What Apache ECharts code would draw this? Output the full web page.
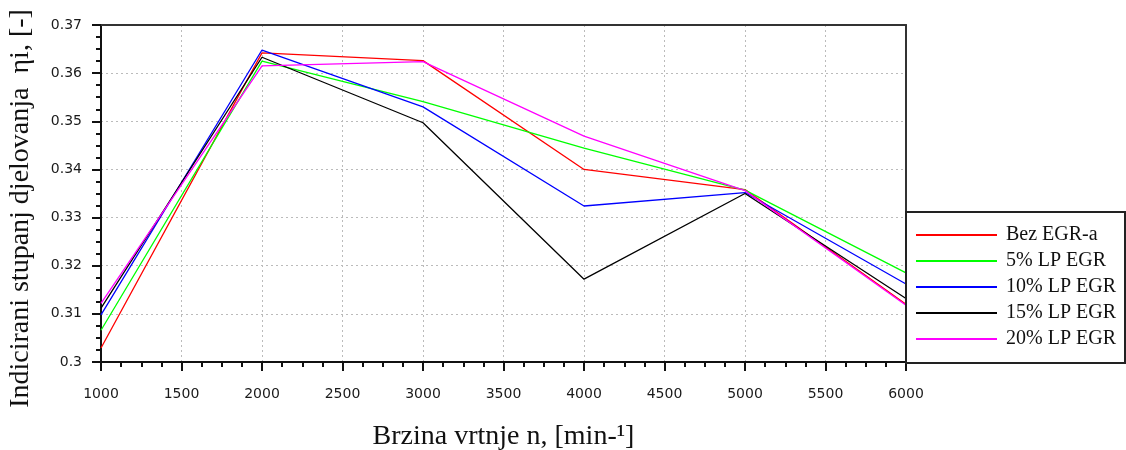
<!DOCTYPE html>
<html>
<head>
<meta charset="utf-8">
<script src="https://cdn.jsdelivr.net/npm/echarts@6/dist/echarts.min.js"></script>
<style>
html,body{margin:0;padding:0;background:#fff;}
#chart{width:1126px;height:450px;}
</style>
</head>
<body>
<div id="chart"></div>
<script>
const speeds = [1000, 2000, 3000, 4000, 5000, 6000];
const seriesNames = ['Bez EGR-a', '5% LP EGR', '10% LP EGR', '15% LP EGR', '20% LP EGR'];
const bezEgr = [0.3029, 0.3642, 0.3626, 0.3400, 0.3358, 0.3120];
const lp5 = [0.3066, 0.3625, 0.3541, 0.3444, 0.3357, 0.3185];
const lp10 = [0.3098, 0.3648, 0.3530, 0.3324, 0.3352, 0.3162];
const lp15 = [0.3112, 0.3633, 0.3497, 0.3172, 0.3350, 0.3132];
const lp20 = [0.3122, 0.3615, 0.3624, 0.3469, 0.3356, 0.3118];
const colors = ['#ff0000', '#00ff00', '#0000ff', '#000000', '#ff00ff'];
const allValues = [bezEgr, lp5, lp10, lp15, lp20];

const chart = echarts.init(document.getElementById('chart'));
const tickFont = { fontFamily: 'DejaVu Sans', fontSize: 14, color: '#1a1a1a' };
const frame = { color: '#333', width: 2 };
chart.setOption({
  animation: false,
  backgroundColor: '#fff',
  grid: { left: 101, right: 220, top: 25, bottom: 88, containLabel: false, outerBoundsMode: 'none' },
  legend: {
    orient: 'vertical', left: 916, top: 225, padding: 0,
    itemWidth: 81, itemHeight: 2, itemGap: 6, icon: 'rect',
    textStyle: { fontFamily: 'Liberation Serif', fontSize: 20, lineHeight: 20, color: '#111', padding: [0, 0, 0, 4] },
    data: seriesNames
  },
  graphic: [{
    type: 'rect', shape: { x: 906, y: 212, width: 219, height: 151 },
    style: { fill: 'none', stroke: '#222', lineWidth: 2 }, silent: true, z: 100
  }],
  xAxis: [{
    type: 'value', min: 1000, max: 6000, interval: 500,
    name: 'Brzina vrtnje n, [min-¹]', nameLocation: 'middle', nameGap: 61,
    nameTextStyle: { fontFamily: 'Liberation Serif', fontSize: 28, color: '#111' },
    axisLine: { lineStyle: { color: '#111', width: 2 } },
    axisTick: { inside: false, length: 9, lineStyle: { color: '#111', width: 2 } },
    minorTick: { show: true, splitNumber: 4, length: 5, lineStyle: { color: '#111', width: 2 } },
    axisLabel: Object.assign({ margin: 25, formatter: v => String(v) }, tickFont),
    splitLine: { show: true, lineStyle: { color: '#bbb', type: [2, 3], width: 1 } }
  }, {
    type: 'value', min: 1000, max: 6000, position: 'top',
    axisLine: { show: true, lineStyle: frame }, axisTick: { show: false },
    axisLabel: { show: false }, splitLine: { show: false }
  }],
  yAxis: [{
    type: 'value', min: 0.3, max: 0.37, interval: 0.01,
    name: 'Indicirani stupanj djelovanja  ηi, [-]', nameLocation: 'middle', nameGap: 66,
    nameTextStyle: { fontFamily: 'Liberation Serif', fontSize: 28, color: '#111', padding: [0, 30, 0, 0] },
    axisLine: { lineStyle: { color: '#111', width: 2 } },
    axisTick: { inside: false, length: 9, lineStyle: { color: '#111', width: 2 } },
    minorTick: { show: true, splitNumber: 4, length: 5, lineStyle: { color: '#111', width: 2 } },
    axisLabel: Object.assign({ margin: 19, formatter: v => String(+v.toFixed(2)) }, tickFont),
    splitLine: { show: true, lineStyle: { color: '#bbb', type: [2, 3], width: 1 } }
  }, {
    type: 'value', min: 0.3, max: 0.37, position: 'right',
    axisLine: { show: true, lineStyle: frame }, axisTick: { show: false },
    axisLabel: { show: false }, splitLine: { show: false }
  }],
  series: seriesNames.map((n, i) => ({
    name: n, type: 'line', symbol: 'none',
    data: speeds.map((s, j) => [s, allValues[i][j]]),
    lineStyle: { color: colors[i], width: 1.3 },
    itemStyle: { color: colors[i] }
  }))
});
</script>
</body>
</html>
